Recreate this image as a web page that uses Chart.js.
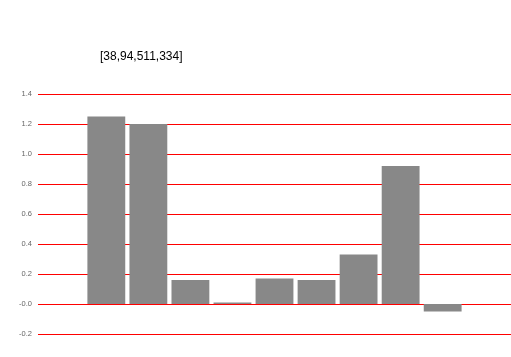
<!DOCTYPE html>
<html>
<head>
<meta charset="utf-8">
<script src="https://cdn.jsdelivr.net/npm/chart.js@4.4.1/dist/chart.umd.min.js"></script>
<style>
html,body{margin:0;padding:0;background:#fff;overflow:hidden;}
#wrap{position:relative;width:511px;height:357px;}
</style>
</head>
<body>
<div id="wrap"><canvas id="c" width="511" height="357"></canvas></div>
<script>
const seriesValues = [1.25, 1.20, 0.16, 0.01, 0.17, 0.16, 0.33, 0.92, -0.05];
const c = new Chart(document.getElementById('c'), {
  type: 'bar',
  data: {labels: [""], datasets: seriesValues.map(v => ({data: [v], backgroundColor: '#888'}))},
  options: {
    responsive: false, animation: false,
    layout: {padding: {top: 94, bottom: 23}},
    plugins: {legend: {display: false}},
    scales: {x: {display: false}, y: {min: -0.2, max: 1.4, afterFit(s){s.width=38;}, ticks:{stepSize:0.2,padding:6,font:{size:7.5}}, grid: {color: 'red', drawTicks:false}, border:{display:false}}}
  },
  plugins: [{id:'dbg', afterDraw(ch){const a=ch.chartArea; ch.ctx.fillStyle='#000'; ch.ctx.font='12px sans-serif'; ch.ctx.fillText(JSON.stringify([a.left,a.top,a.right,a.bottom].map(x=>Math.round(x*10)/10)), 100, 60);}}]
});
</script>
</body>
</html>
